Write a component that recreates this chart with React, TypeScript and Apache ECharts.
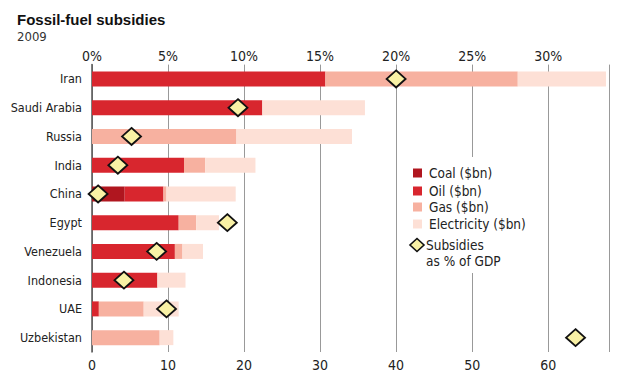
import React, { useEffect, useRef } from "react";
import * as echarts from "echarts";

const countries = ["Iran", "Saudi Arabia", "Russia", "India", "China", "Egypt", "Venezuela", "Indonesia", "UAE", "Uzbekistan"];
const coal = [0, 0, 0, 0, 4.3, 0, 0, 0, 0, 0];
const oil = [30.7, 22.4, 0, 12.1, 5.1, 11.4, 10.9, 8.6, 0.9, 0];
const gas = [25.3, 0, 19.0, 2.8, 0.4, 2.3, 1.0, 0, 5.9, 8.9];
const electricity = [11.6, 13.5, 15.2, 6.6, 9.1, 3.0, 2.7, 3.7, 4.6, 1.8];
const gdpPct = [20.0, 9.6, 2.6, 1.7, 0.4, 8.9, 4.25, 2.1, 4.9, 31.8];

const seriesNames = ["Coal ($bn)", "Oil ($bn)", "Gas ($bn)", "Electricity ($bn)"];
const seriesColors = ["#b0161f", "#d8262e", "#f7b1a0", "#fde0d6"];
const diamondLabel = ["Subsidies", "as % of GDP"];

const FONT = "'DejaVu Sans Condensed', 'Liberation Sans', sans-serif";

export default function App() {
  const ref = useRef<HTMLDivElement>(null);
  useEffect(() => {
    if (!ref.current) return;
    const chart = echarts.init(ref.current, null, { renderer: "svg" });
    const stacks = [coal, oil, gas, electricity];
    const legendX = 413;
    const legendY = [173, 191, 207, 224];
    const graphics: any[] = [
      { type: "rect", shape: { x: 401, y: 157, width: 140, height: 116 }, style: { fill: "#fff" }, z: 10 },
    ];
    seriesNames.forEach((n, i) => {
      graphics.push({ type: "rect", shape: { x: legendX, y: legendY[i] - 4.5, width: 9, height: 9 }, style: { fill: seriesColors[i] }, z: 11 });
      graphics.push({ type: "text", x: 429, y: legendY[i], style: { text: n, fontFamily: FONT, fontSize: 13.5, fill: "#222", verticalAlign: "middle" }, z: 11 });
    });
    graphics.push({ type: "polygon", shape: { points: [[417, 238.5], [424, 245], [417, 251.5], [410, 245]] }, style: { fill: "#f9f1a5", stroke: "#111", lineWidth: 1.6 }, z: 11 });
    graphics.push({ type: "text", x: 426, y: 245, style: { text: diamondLabel[0], fontFamily: FONT, fontSize: 13.5, fill: "#222", verticalAlign: "middle" }, z: 11 });
    graphics.push({ type: "text", x: 426, y: 261, style: { text: diamondLabel[1], fontFamily: FONT, fontSize: 13.5, fill: "#222", verticalAlign: "middle" }, z: 11 });

    chart.setOption({
      animation: false,
      title: {
        text: "Fossil-fuel subsidies",
        subtext: "2009",
        left: 17,
        top: 12,
        itemGap: 3,
        padding: 0,
        textStyle: { fontFamily: "'Liberation Sans', sans-serif", fontWeight: "bold", fontSize: 15, color: "#111" },
        subtextStyle: { fontFamily: FONT, fontSize: 13, color: "#333" },
      },
      grid: { left: 92, right: 11, top: 64.6, bottom: 30, containLabel: false },
      xAxis: [
        {
          type: "value",
          position: "bottom",
          min: 0,
          max: 68,
          interval: 10,
          axisLine: { show: false },
          axisTick: { show: false },
          splitLine: { show: true, lineStyle: { color: "#999", width: 1 } },
          axisLabel: { fontFamily: FONT, fontSize: 14, color: "#222", margin: 6, showMaxLabel: false },
        },
        {
          type: "value",
          position: "top",
          min: 0,
          max: 34,
          interval: 5,
          axisLine: { show: false },
          axisTick: { show: false },
          splitLine: { show: false },
          axisLabel: { fontFamily: FONT, fontSize: 14, color: "#222", margin: 2, formatter: "{value}%", showMaxLabel: false },
        },
      ],
      yAxis: {
        type: "category",
        data: countries,
        inverse: true,
        axisLine: { show: true, lineStyle: { color: "#555", width: 1.5 } },
        axisTick: { show: false },
        axisLabel: { fontFamily: FONT, fontSize: 12.5, color: "#222", margin: 10 },
      },
      graphic: graphics,
      series: [
        ...stacks.map((d, i) => ({
          name: seriesNames[i],
          type: "bar",
          stack: "total",
          xAxisIndex: 0,
          barWidth: 15,
          data: d,
          itemStyle: { color: seriesColors[i] },
        })),
        {
          name: "Subsidies as % of GDP",
          type: "scatter",
          xAxisIndex: 1,
          symbol: "diamond",
          symbolSize: [19, 17],
          data: gdpPct,
          itemStyle: { color: "#f9f1a5", borderColor: "#111", borderWidth: 1.8, opacity: 1 },
          z: 5,
        },
      ],
    });
    return () => chart.dispose();
  }, []);
  return <div ref={ref} style={{ width: 620, height: 382, position: "absolute", left: 0, top: 0 }} />;
}
